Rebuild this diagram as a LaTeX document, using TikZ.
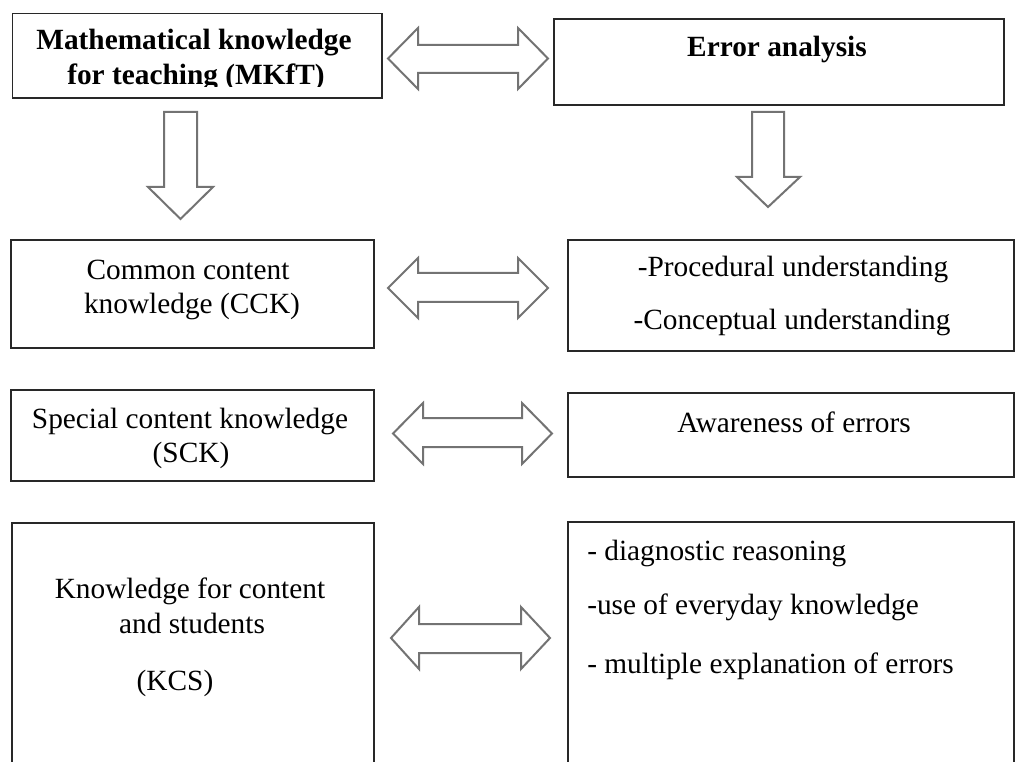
\documentclass[tikz,border=0pt]{standalone}
\usepackage{fontspec}
\setmainfont{Liberation Serif}
\usetikzlibrary{fit}
\definecolor{boxline}{RGB}{40,40,40}
\definecolor{arrline}{RGB}{115,115,115}
\begin{document}
\begin{tikzpicture}[x=0.75pt,y=-0.75pt,
  box/.style={draw=boxline,line width=1.2pt,inner sep=0pt,rectangle},
  blockarrow/.style={draw=arrline,line width=1.5pt,fill=white,line join=miter},
  txt/.style={anchor=base,inner sep=0pt,font=\fontsize{22}{25.5}\selectfont},
  btxt/.style={txt,font=\fontsize{22}{25.5}\selectfont\bfseries}]
\useasboundingbox (0,0) rectangle (1016,762);
\clip (0,0) rectangle (1016,762);
\fill[white] (0,0) rectangle (1016,762);

% boxes
\node[box,fit={(12.5,13.5) (382,98)}] (mkft) {};
\node[box,fit={(554,19) (1004,105)}] (err) {};
\node[box,fit={(11,240) (374,348)}] (cck) {};
\node[box,fit={(568,240) (1014,351)}] (proc) {};
\node[box,fit={(11,390) (374,481)}] (sck) {};
\node[box,fit={(568,393) (1014,477)}] (aware) {};
\node[box,fit={(12,523) (374,800)}] (kcs) {};
\node[box,fit={(568,522) (1014,800)}] (diag) {};

% texts
\node[btxt] (t1) at (194,50) {Mathematical knowledge};
\begin{scope}
\clip (0,0) rectangle (1016,86.5);
\node[btxt] (t2) at (196,85) {for teaching (MKfT)};
\end{scope}
\node[btxt] (t3) at (777,57) {Error analysis};
\node[txt] (t4) at (188,280) {Common content};
\node[txt] (t5) at (192,314) {knowledge (CCK)};
\node[txt] (t6) at (793,277) {-Procedural understanding};
\node[txt] (t7) at (792,330) {-Conceptual understanding};
\node[txt] (t8) at (190,428) {Special content knowledge};
\node[txt] (t9) at (191,462) {(SCK)};
\node[txt] (t10) at (794,432) {Awareness of errors};
\node[txt] (t11) at (190,598) {Knowledge for content};
\node[txt] (t12) at (192,633) {and students};
\node[txt] (t13) at (175,690) {(KCS)};
\node[txt,anchor=base west] (t14) at (587,560) {- diagnostic reasoning};
\node[txt,anchor=base west] (t15) at (587,614) {-use of everyday knowledge};
\node[txt,anchor=base west] (t16) at (587,673) {- multiple explanation of errors};

% double block arrows
\draw[blockarrow] (388,58.5) -- (418,28) -- (418,45) -- (518,45) -- (518,28) -- (548,58.5)
  -- (518,89) -- (518,73) -- (418,73) -- (418,89) -- cycle;
\draw[blockarrow] (388,288) -- (418,258) -- (418,273) -- (518,273) -- (518,258) -- (548,288)
  -- (518,318) -- (518,302) -- (418,302) -- (418,318) -- cycle;
\draw[blockarrow] (393,433.5) -- (423,403) -- (423,418) -- (522,418) -- (522,403) -- (552,433.5)
  -- (522,464) -- (522,447) -- (423,447) -- (423,464) -- cycle;
\draw[blockarrow] (391,638) -- (419,607) -- (419,624) -- (521,624) -- (521,607) -- (550,638)
  -- (521,669) -- (521,653) -- (419,653) -- (419,669) -- cycle;

% down block arrows
\draw[blockarrow] (164,112) -- (197,112) -- (197,187) -- (213,187) -- (180.5,219)
  -- (148,187) -- (164,187) -- cycle;
\draw[blockarrow] (752,112) -- (784,112) -- (784,177) -- (800,177) -- (768,207)
  -- (737,177) -- (752,177) -- cycle;
\end{tikzpicture}
\end{document}
